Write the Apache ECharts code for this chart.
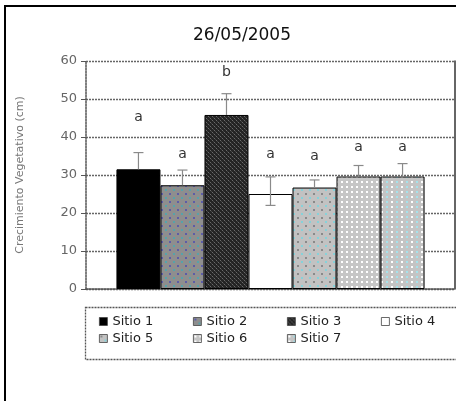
<!DOCTYPE html>
<html>
<head>
<meta charset="utf-8">
<script src="https://cdn.jsdelivr.net/npm/echarts@6/dist/echarts.min.js"></script>
<style>
  html, body { margin: 0; padding: 0; background: #fff; }
  #chart { width: 456px; height: 401px; }
</style>
</head>
<body>
<div id="chart"></div>
<script>
// Growth per site on 26/05/2005: mean, error bars and significance letters
const sites = ['Sitio 1', 'Sitio 2', 'Sitio 3', 'Sitio 4', 'Sitio 5', 'Sitio 6', 'Sitio 7'];
const means = [31.5, 27.3, 45.8, 25.0, 26.7, 29.6, 29.6];
const errPlus = [4.4, 4.0, 5.6, 4.5, 2.0, 2.9, 3.4];
const errMinus = [0, 0, 0, 3.0, 0, 0, 0];
const letters = ['a', 'a', 'b', 'a', 'a', 'a', 'a'];
const letterHeights = [45.3, 35.4, 57.0, 35.4, 34.8, 37.4, 37.4];
const yTicks = { min: 0, max: 60, interval: 10 };

const CAT_GAP = 0.165;
const FONT = '"DejaVu Sans", sans-serif';

// Small tiled fills
function tile(w, h, bg, dots) {
  const c = document.createElement('canvas');
  c.width = w; c.height = h;
  const g = c.getContext('2d');
  g.fillStyle = bg; g.fillRect(0, 0, w, h);
  dots.forEach(d => { g.fillStyle = d[2]; g.fillRect(d[0], d[1], d[3] || 2, d[3] || 2); });
  return { image: c, repeat: 'repeat' };
}
const fills = [
  '#000000',
  tile(8, 8, '#8e8e8e', [[1, 1, '#5c5ca8'], [5, 5, '#55a3ab']]),
  tile(4, 4, '#242424', [[0, 0, '#6a6a6a', 1], [2, 2, '#6a6a6a', 1], [1, 1, '#444', 1], [3, 3, '#444', 1]]),
  '#ffffff',
  tile(8, 8, '#c2c2c2', [[1, 1, '#8a8a8a'], [5, 5, '#86d2da']]),
  tile(5, 5, '#c6c6c6', [[1, 1, '#ffffff']]),
  tile(10, 5, '#c4c4c4', [[1, 1, '#ffffff'], [6, 1, '#a6e2ea']])
];

const barSeries = sites.map((name, i) => ({
  name,
  type: 'bar',
  data: [means[i]],
  barGap: '0%',
  barCategoryGap: (CAT_GAP * 100) + '%',
  itemStyle: { color: fills[i], borderColor: '#000', borderWidth: 1 },
  emphasis: { disabled: true },
  z: 2
}));

const errorData = sites.map((_, i) => [0, i, means[i], errPlus[i], errMinus[i], letterHeights[i]]);

const errorSeries = {
  type: 'custom',
  name: 'err',
  data: errorData,
  encode: { x: 0, y: 2 },
  z: 5,
  silent: true,
  renderItem(params, api) {
    const idx = api.value(1);
    const v = api.value(2);
    const ep = api.value(3);
    const em = api.value(4);
    const lh = api.value(5);
    const band = api.size([1, 0])[0];
    const group = band * (1 - CAT_GAP);
    const bw = group / sites.length;
    const cx = api.coord([0, 0])[0] - group / 2 + bw * (idx + 0.5);
    const yHi = api.coord([0, v + ep])[1];
    const yLo = api.coord([0, v - em])[1];
    const yV = api.coord([0, v])[1];
    const cap = 5;
    const st = { stroke: '#8a8a8a', lineWidth: 1.2 };
    const children = [
      { type: 'line', shape: { x1: cx, y1: yHi, x2: cx, y2: em > 0 ? yLo : yV }, style: st },
      { type: 'line', shape: { x1: cx - cap, y1: yHi, x2: cx + cap, y2: yHi }, style: st },
      { type: 'text', style: { x: cx, y: api.coord([0, lh])[1], text: letters[idx],
        align: 'center', verticalAlign: 'middle', font: '14px ' + FONT, fill: '#333' } }
    ];
    if (em > 0) {
      children.push({ type: 'line', shape: { x1: cx - cap, y1: yLo, x2: cx + cap, y2: yLo }, style: st });
    }
    return { type: 'group', children };
  }
};

// Legend laid out as a 4-column grid inside its frame
const LEGEND_COLS = 4;
const legends = sites.map((name, i) => ({
  data: [{ name, icon: 'rect' }],
  left: 99 + 94 * (i % LEGEND_COLS),
  top: 315 + 17 * Math.floor(i / LEGEND_COLS),
  orient: 'horizontal',
  itemWidth: 8, itemHeight: 8,
  padding: 0,
  selectedMode: false,
  textStyle: { fontFamily: FONT, fontSize: 13, color: '#222' },
  itemStyle: { borderColor: '#444', borderWidth: 0.8 }
}));

const chart = echarts.init(document.getElementById('chart'), null, { renderer: 'canvas' });
chart.setOption({
  animation: false,
  backgroundColor: '#fff',
  title: {
    text: '26/05/2005',
    left: 237, top: 22, textAlign: 'center',
    textStyle: { fontFamily: FONT, fontSize: 17, fontWeight: 'normal', color: '#111' }
  },
  grid: { left: 86, right: 1, top: 61, bottom: 112 },
  legend: legends,
  xAxis: {
    type: 'category',
    data: ['26/05/2005'],
    axisLine: { show: true, lineStyle: { color: '#555', type: [2, 1], width: 1.5 } },
    axisTick: { show: false },
    axisLabel: { show: false },
    splitLine: { show: false }
  },
  yAxis: [{
    type: 'value',
    min: yTicks.min, max: yTicks.max, interval: yTicks.interval,
    name: 'Crecimiento Vegetativo (cm)',
    nameLocation: 'middle', nameGap: 60, nameRotate: 90,
    nameTextStyle: { fontFamily: FONT, fontSize: 11, color: '#777' },
    axisLine: { show: true, lineStyle: { color: '#555', type: [2, 1], width: 1.5 } },
    axisTick: { show: true, length: 5, lineStyle: { color: '#555' } },
    axisLabel: { fontFamily: FONT, fontSize: 13, color: '#666', margin: 9 },
    splitLine: { show: true, lineStyle: { color: '#666', type: [2, 1], width: 1.3 } }
  }, {
    type: 'value', position: 'right',
    min: yTicks.min, max: yTicks.max, interval: yTicks.interval,
    axisLine: { show: true, lineStyle: { color: '#333', width: 1.5 } },
    axisTick: { show: false }, axisLabel: { show: false }, splitLine: { show: false }
  }],
  graphic: [
    { type: 'rect', shape: { x: 5, y: 6, width: 520, height: 500 },
      style: { fill: 'none', stroke: '#000', lineWidth: 2 }, z: 100 },
    { type: 'rect', shape: { x: 85.5, y: 307.5, width: 400, height: 52 },
      style: { fill: 'none', stroke: '#555', lineWidth: 1.3, lineDash: [2, 1] }, z: 100 }
  ],
  series: [...barSeries, errorSeries]
});
</script>
</body>
</html>
